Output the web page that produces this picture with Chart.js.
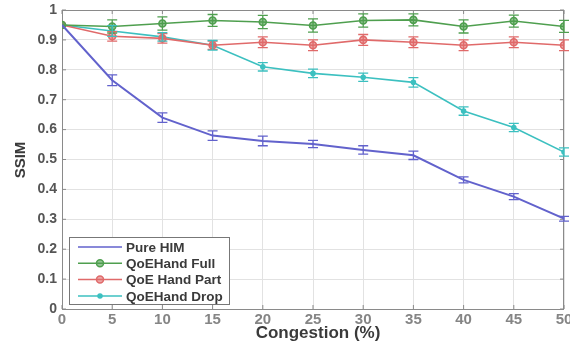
<!DOCTYPE html>
<html>
<head>
<meta charset="utf-8">
<script src="https://cdn.jsdelivr.net/npm/chart.js@4"></script>
<style>
  html, body { margin: 0; padding: 0; background: #fff; overflow: hidden; }
  #wrap { width: 570px; height: 346px; }
</style>
</head>
<body>
<div id="wrap"><canvas id="myChart"></canvas></div>
<script>
"use strict";

// data
const congestion = [0, 5, 10, 15, 20, 25, 30, 35, 40, 45, 50];
const yTicks = [0, 0.1, 0.2, 0.3, 0.4, 0.5, 0.6, 0.7, 0.8, 0.9, 1];

const pureHim   = [0.95, 0.765, 0.64, 0.58, 0.562, 0.552, 0.532, 0.514, 0.432, 0.376, 0.302];
const hFull     = [0.95, 0.945, 0.955, 0.965, 0.96, 0.948, 0.965, 0.967, 0.945, 0.963, 0.945];
const hPart     = [0.95, 0.912, 0.905, 0.882, 0.892, 0.882, 0.9, 0.892, 0.882, 0.892, 0.882];
const hDrop     = [0.95, 0.93, 0.91, 0.882, 0.81, 0.788, 0.775, 0.758, 0.662, 0.607, 0.525];

const errHim    = [0.0, 0.018, 0.016, 0.016, 0.016, 0.012, 0.014, 0.014, 0.01, 0.01, 0.008];
const errFull   = [0.0, 0.022, 0.022, 0.02, 0.022, 0.022, 0.022, 0.02, 0.022, 0.02, 0.02];
const errPart   = [0.0, 0.016, 0.016, 0.014, 0.018, 0.018, 0.018, 0.018, 0.018, 0.018, 0.018];
const errDrop   = [0.0, 0.018, 0.014, 0.016, 0.014, 0.014, 0.014, 0.016, 0.014, 0.014, 0.014];

const seriesNames = ["Pure HIM", "QoEHand Full", "QoE Hand Part", "QoEHand Drop"];

const cBlue = "#6262cc";
const cGreen = "#4f9f4f";
const cRed = "#e06a6a";
const cCyan = "#3cc0c0";

const fontFam = "'Liberation Sans', Arial, sans-serif";

function pts(vals) {
    return congestion.map((x, i) => ({ x: x, y: vals[i] }));
}

const errBars = {
    id: "errBars",
    afterDatasetsDraw(chart) {
        const ctx = chart.ctx;
        const ys = chart.scales.y;
        chart.data.datasets.forEach((ds, di) => {
            const meta = chart.getDatasetMeta(di);
            ctx.save();
            ctx.strokeStyle = ds.borderColor;
            ctx.lineWidth = 1.3;
            meta.data.forEach((p, i) => {
                const e = ds.err[i];
                if (!e) return;
                const v = ds.data[i].y;
                const y1 = ys.getPixelForValue(v - e);
                const y2 = ys.getPixelForValue(v + e);
                ctx.beginPath();
                ctx.moveTo(p.x, y1); ctx.lineTo(p.x, y2);
                ctx.moveTo(p.x - 5, y1); ctx.lineTo(p.x + 5, y1);
                ctx.moveTo(p.x - 5, y2); ctx.lineTo(p.x + 5, y2);
                ctx.stroke();
            });
            ctx.restore();
        });
    }
};

const frame = {
    id: "frame",
    beforeDatasetsDraw(chart) {
        const a = chart.chartArea;
        const ctx = chart.ctx;
        ctx.save();
        ctx.strokeStyle = "#8a8a8a";
        ctx.lineWidth = 1;
        ctx.strokeRect(a.left + 0.5, a.top + 0.5, a.right - a.left - 1, a.bottom - a.top);
        // inward ticks
        ctx.beginPath();
        chart.scales.x.ticks.forEach(t => {
            const x = chart.scales.x.getPixelForValue(t.value);
            ctx.moveTo(x, a.bottom); ctx.lineTo(x, a.bottom - 4);
            ctx.moveTo(x, a.top); ctx.lineTo(x, a.top + 4);
        });
        chart.scales.y.ticks.forEach(t => {
            const y = chart.scales.y.getPixelForValue(t.value);
            ctx.moveTo(a.left, y); ctx.lineTo(a.left + 4, y);
            ctx.moveTo(a.right, y); ctx.lineTo(a.right - 4, y);
        });
        ctx.stroke();
        ctx.restore();
    },
    afterDraw(chart) {
        const ctx = chart.ctx;
        const a = chart.chartArea;
        ctx.save();
        ctx.fillStyle = "#3a3a3a";
        ctx.font = "bold 17px " + fontFam;
        ctx.textAlign = "center";
        ctx.textBaseline = "middle";
        ctx.fillText("Congestion (%)", 318, 333);
        ctx.translate(21, 160);
        ctx.rotate(-Math.PI / 2);
        ctx.font = "bold 15px " + fontFam;
        ctx.fillText("SSIM", 0, 0);
        ctx.restore();

        // legend box
        ctx.save();
        const bx = 69, by = 237, bw = 160, bh = 67;
        ctx.fillStyle = "#fff";
        ctx.fillRect(bx, by, bw, bh);
        ctx.strokeStyle = "#777";
        ctx.lineWidth = 1;
        ctx.strokeRect(bx + 0.5, by + 0.5, bw, bh);
        ctx.font = "bold 13.5px " + fontFam;
        ctx.textBaseline = "middle";
        chart.data.datasets.forEach((ds, i) => {
            const y = 247 + i * 16.3;
            ctx.strokeStyle = ds.borderColor;
            ctx.lineWidth = 1.5;
            ctx.beginPath();
            ctx.moveTo(78, y); ctx.lineTo(122, y);
            ctx.stroke();
            if (ds.pointRadius > 0) {
                ctx.fillStyle = ds.backgroundColor;
                ctx.beginPath();
                ctx.arc(100, y, ds.pointRadius, 0, Math.PI * 2);
                ctx.fill();
                ctx.stroke();
            }
            ctx.fillStyle = "#3a3a3a";
            ctx.fillText(ds.label, 126, y + 1);
        });
        ctx.restore();
    }
};

new Chart(document.getElementById("myChart"), {
    type: "line",
    data: {
        datasets: [
            { label: seriesNames[0], data: pts(pureHim), err: errHim, borderColor: cBlue, backgroundColor: cBlue, borderWidth: 2, pointRadius: 0 },
            { label: seriesNames[1], data: pts(hFull), err: errFull, borderColor: cGreen, backgroundColor: "rgba(79,159,79,0.6)", borderWidth: 1.6, pointRadius: 3.5 },
            { label: seriesNames[2], data: pts(hPart), err: errPart, borderColor: cRed, backgroundColor: "rgba(224,106,106,0.6)", borderWidth: 1.6, pointRadius: 3.5 },
            { label: seriesNames[3], data: pts(hDrop), err: errDrop, borderColor: cCyan, backgroundColor: cCyan, borderWidth: 1.6, pointRadius: 2 }
        ]
    },
    options: {
        responsive: true,
        maintainAspectRatio: false,
        animation: false,
        layout: { padding: { left: 0, top: 10, right: 6, bottom: 0 } },
        plugins: { legend: { display: false }, tooltip: { enabled: false } },
        scales: {
            x: {
                type: "linear",
                min: 0, max: 50,
                afterBuildTicks(s) { s.ticks = congestion.map(v => ({ value: v })); },
                afterFit(s) { s.height = 37; s.paddingLeft = 0; s.paddingRight = 0; },
                grid: { color: "#e2e2e2", drawTicks: false },
                border: { display: false },
                ticks: { padding: 2, color: "#858585", font: { family: fontFam, size: 15, weight: "bold" } }
            },
            y: {
                min: 0, max: 1,
                afterBuildTicks(s) { s.ticks = yTicks.map(v => ({ value: v })); },
                afterFit(s) { s.width = 62; s.paddingTop = 0; s.paddingBottom = 0; },
                grid: { color: "#e2e2e2", drawTicks: false },
                border: { display: false },
                ticks: {
                    padding: 5, color: "#555",
                    font: { family: fontFam, size: 14, weight: "bold" },
                    callback: v => String(Math.round(v * 10) / 10)
                }
            }
        }
    },
    plugins: [frame, errBars]
});
</script>
</body>
</html>
